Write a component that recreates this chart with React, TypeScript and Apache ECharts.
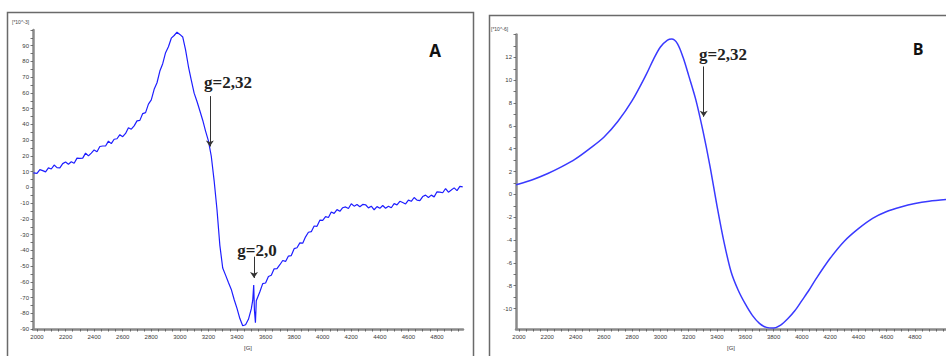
import React, { useEffect, useRef } from "react";
import * as echarts from "echarts";

// Panel A: noisy experimental EPR spectrum [field (G), signal (x10^-3)]
const spectrumA: [number, number][] = [
  [1975, 9.2], [2000, 8.9], [2020, 11.3], [2040, 10.7], [2060, 9.9], [2080, 12.4], [2100, 11.7],
  [2120, 14.2], [2140, 12.6], [2160, 12.4], [2180, 15.1], [2200, 16.1], [2220, 14.7], [2240, 16.3],
  [2260, 15.3], [2280, 18.6], [2300, 18.5], [2320, 18.6], [2340, 21.8], [2360, 20.0], [2380, 21.8],
  [2400, 23.8], [2420, 22.7], [2440, 26.0], [2460, 26.3], [2480, 26.3], [2500, 29.4], [2520, 27.8],
  [2540, 30.6], [2560, 30.9], [2580, 33.5], [2600, 32.2], [2620, 34.3], [2640, 37.9], [2660, 37.0],
  [2680, 39.1], [2700, 42.3], [2720, 42.6], [2740, 46.9], [2760, 47.5], [2780, 52.9], [2800, 55.6],
  [2820, 62.3], [2840, 66.5], [2860, 73.9], [2880, 78.6], [2900, 85.6], [2920, 89.4], [2940, 94.8],
  [2960, 96.5], [2980, 98.6], [3000, 97.2], [3020, 95.6], [3040, 87.4], [3060, 76.8], [3080, 68.2],
  [3100, 59.9], [3120, 54.6], [3140, 48.7], [3160, 42.7], [3180, 35.8], [3200, 29.6], [3220, 19.8],
  [3240, 4.2], [3260, -14.2], [3280, -36.8], [3300, -51.2], [3320, -55.7], [3340, -60.4], [3360, -64.8],
  [3380, -71.2], [3400, -76.8], [3420, -83.3], [3440, -87.9], [3460, -87.2], [3480, -83.8], [3500, -77.2],
  [3510, -71.8], [3517, -62], [3522, -78], [3529, -86], [3535, -72], [3560, -66.3], [3580, -61.1],
  [3600, -60.7], [3620, -56.6], [3640, -55.8], [3660, -51.7], [3680, -51.6], [3700, -49.1], [3720, -46.4],
  [3740, -47.0], [3760, -43.6], [3780, -43.3], [3800, -38.9], [3820, -38.3], [3840, -35.2], [3860, -35.4],
  [3880, -31.4], [3900, -28.5], [3920, -28.1], [3940, -24.5], [3960, -24.7], [3980, -20.8], [4000, -20.9],
  [4020, -18.6], [4040, -19.1], [4060, -15.6], [4080, -16.5], [4100, -14.1], [4120, -15.2], [4140, -12.9],
  [4160, -12.4], [4180, -13.4], [4200, -10.4], [4220, -11.9], [4240, -10.8], [4260, -12.3], [4280, -10.8],
  [4300, -11.0], [4320, -13.0], [4340, -11.9], [4360, -14.2], [4380, -12.2], [4400, -13.3], [4420, -11.5],
  [4440, -13.2], [4460, -11.9], [4480, -12.9], [4500, -10.3], [4520, -11.1], [4540, -8.8], [4560, -9.6],
  [4580, -10.5], [4600, -8.1], [4620, -8.8], [4640, -6.4], [4660, -8.1], [4680, -8.4], [4700, -5.8],
  [4720, -4.9], [4740, -6.4], [4760, -4.9], [4780, -6.0], [4800, -2.8], [4820, -3.0], [4840, -3.4],
  [4860, -0.7], [4880, -3.0], [4900, -1.7], [4920, -0.3], [4940, -2.0], [4960, 0.7], [4980, 0.3],
];

// Panel B: simulated spectrum [field (G), signal (x10^-6)]
const spectrumB: [number, number][] = [
  [1979, 0.85], [2000, 0.9], [2100, 1.3], [2200, 1.8], [2300, 2.4], [2400, 3.1], [2500, 4.0],
  [2600, 5.0], [2700, 6.4], [2800, 8.2], [2900, 10.5], [2950, 11.8], [3000, 12.9], [3050, 13.5],
  [3080, 13.6], [3120, 13.2], [3160, 12.0], [3200, 10.4], [3250, 8.3], [3300, 5.6], [3350, 2.5],
  [3400, -1.0], [3450, -4.2], [3500, -6.8], [3550, -8.4], [3600, -9.6], [3650, -10.6], [3700, -11.3],
  [3750, -11.65], [3800, -11.7], [3850, -11.45], [3900, -10.9], [3950, -10.2], [4000, -9.3],
  [4050, -8.4], [4100, -7.4], [4200, -5.6], [4300, -4.1], [4400, -3.0], [4500, -2.1], [4600, -1.5],
  [4700, -1.1], [4800, -0.8], [4900, -0.6], [5019, -0.45],
];

const xLabels = [2000, 2200, 2400, 2600, 2800, 3000, 3200, 3400, 3600, 3800, 4000, 4200, 4400, 4600, 4800];
const yLabelsA = [-90, -80, -70, -60, -50, -40, -30, -20, -10, 0, 10, 20, 30, 40, 50, 60, 70, 80, 90];
const yLabelsB = [-10, -8, -6, -4, -2, 0, 2, 4, 6, 8, 10, 12];

// annotation arrows [field, yStart, yEnd]
const arrowA232 = [3210, 58, 26];
const arrowA20 = [3519, -44, -57.5];
const arrowB232 = [3306, 11.2, 6.8];

function stepList(from: number, to: number, step: number) {
  const out: number[] = [];
  for (let v = from; v <= to + 1e-9; v += step) out.push(Math.round(v * 100) / 100);
  return out;
}

const axisColor = "#8a8a8a";
const labelStyle = { fontSize: 6, color: "#3a3a3a", fontFamily: "Liberation Sans" };
const plain = (v: number) => String(v);

function makeX(gridIndex: number, min: number, max: number) {
  return {
    type: "value",
    gridIndex,
    min,
    max,
    name: "[G]",
    nameLocation: "middle",
    nameGap: 15,
    nameTextStyle: { fontSize: 6, color: "#3a3a3a", fontFamily: "Liberation Sans" },
    axisLine: { show: true, onZero: false, lineStyle: { color: axisColor, width: 2.5 } },
    axisTick: { show: true, length: 2.5, customValues: stepList(2000, max - 10, 50), lineStyle: { color: "#555", width: 0.8 } },
    axisLabel: { ...labelStyle, margin: 5, customValues: xLabels, formatter: plain },
    splitLine: { show: false },
  };
}

function makeY(gridIndex: number, min: number, max: number, labels: number[], tickStep: number) {
  return {
    type: "value",
    gridIndex,
    min,
    max,
    axisLine: { show: true, onZero: false, lineStyle: { color: axisColor, width: 2.5 } },
    axisTick: { show: true, length: 2.5, customValues: stepList(labels[0], labels[labels.length - 1] + tickStep * 2, tickStep).filter((v) => v <= max && v >= min), lineStyle: { color: "#555", width: 0.8 } },
    axisLabel: { ...labelStyle, margin: 4, customValues: labels, formatter: plain },
    splitLine: { show: false },
  };
}

function arrowLine(a: number[]) {
  return [{ coord: [a[0], a[1]] }, { coord: [a[0], a[2]] }];
}

export default function App() {
  const ref = useRef<HTMLDivElement>(null);
  useEffect(() => {
    if (!ref.current) return;
    const chart = echarts.init(ref.current, null, { renderer: "svg" });
    const markLineBase = {
      silent: true,
      symbol: ["none", "arrow"],
      symbolSize: 6,
      label: { show: false },
      lineStyle: { color: "#333", width: 1, type: "solid" },
      emphasis: { disabled: true },
      animation: false,
    };
    const option = {
      animation: false,
      backgroundColor: "#ffffff",
      grid: [
        { left: 33, top: 30, width: 430, height: 304 },
        { left: 516, top: 34.5, width: 430, height: 303.2 },
      ],
      xAxis: [makeX(0, 1972, 4982), makeX(1, 1979, 5019)],
      yAxis: [makeY(0, -90, 100, yLabelsA, 5), makeY(1, -11.8, 14, yLabelsB, 1)],
      series: [
        {
          type: "line",
          xAxisIndex: 0,
          yAxisIndex: 0,
          data: spectrumA,
          showSymbol: false,
          lineStyle: { color: "#1e1eff", width: 1.2 },
          markLine: { ...markLineBase, data: [arrowLine(arrowA232), arrowLine(arrowA20)] },
        },
        {
          type: "line",
          xAxisIndex: 1,
          yAxisIndex: 1,
          data: spectrumB,
          showSymbol: false,
          smooth: 0.3,
          lineStyle: { color: "#3a3aff", width: 1.5 },
          markLine: { ...markLineBase, data: [arrowLine(arrowB232)] },
        },
      ],
      graphic: [
        { type: "rect", shape: { x: 7.5, y: 12.5, width: 466, height: 360 }, style: { fill: "none", stroke: "#6a6a6a", lineWidth: 1.5 }, silent: true },
        { type: "rect", shape: { x: 489.5, y: 15.5, width: 470, height: 360 }, style: { fill: "none", stroke: "#6a6a6a", lineWidth: 1.5 }, silent: true },
        { type: "text", x: 12, y: 19, style: { text: "[*10^-3]", fontSize: 5, fill: "#444", fontFamily: "Liberation Sans" } },
        { type: "text", x: 491, y: 26, style: { text: "[*10^-6]", fontSize: 5, fill: "#444", fontFamily: "Liberation Sans" } },
        { type: "text", x: 228, y: 82, style: { text: "g=2,32", fontSize: 17, fontWeight: "bold", fill: "#222", fontFamily: "Liberation Serif", align: "center", verticalAlign: "middle" } },
        { type: "text", x: 257, y: 250, style: { text: "g=2,0", fontSize: 17, fontWeight: "bold", fill: "#222", fontFamily: "Liberation Serif", align: "center", verticalAlign: "middle" } },
        { type: "text", x: 723, y: 54, style: { text: "g=2,32", fontSize: 17, fontWeight: "bold", fill: "#222", fontFamily: "Liberation Serif", align: "center", verticalAlign: "middle" } },
        { type: "text", x: 435, y: 50, style: { text: "A", fontSize: 17, fontWeight: "bold", fill: "#111", fontFamily: "Open Sans", align: "center", verticalAlign: "middle" } },
        { type: "text", x: 918, y: 49, style: { text: "B", fontSize: 16, fontWeight: "bold", fill: "#111", fontFamily: "Open Sans", align: "center", verticalAlign: "middle" } },
      ],
    };
    chart.setOption(option as any);
    return () => chart.dispose();
  }, []);
  return (
    <div
      ref={ref}
      style={{ position: "absolute", left: 0, top: 0, width: 946, height: 356, background: "#fff" }}
    />
  );
}
